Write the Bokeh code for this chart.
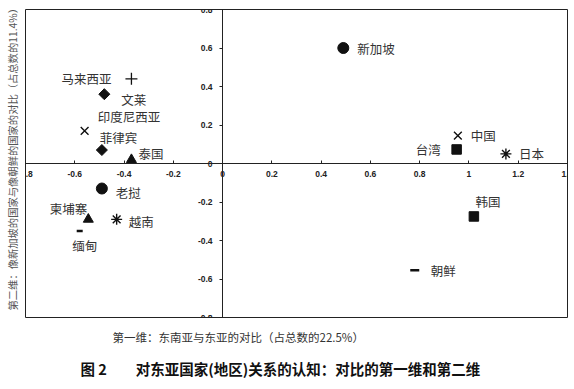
import math
from bokeh.plotting import figure
from bokeh.models import Range1d, FixedTicker, PrintfTickFormatter, Label, Title
from bokeh.embed import file_html
from bokeh.resources import INLINE

# ---------------- data ----------------
names = ["马来西亚", "文莱", "印度尼西亚", "菲律宾", "泰国", "新加坡", "中国", "台湾",
         "日本", "老挝", "柬埔寨", "越南", "缅甸", "韩国", "朝鲜"]
dim1 = [-0.37, -0.48, -0.56, -0.49, -0.37, 0.49, 0.955, 0.95,
        1.15, -0.49, -0.545, -0.43, -0.58, 1.02, 0.78]
dim2 = [0.44, 0.36, 0.17, 0.07, 0.02, 0.60, 0.145, 0.073,
        0.05, -0.13, -0.29, -0.29, -0.35, -0.275, -0.555]
markers = ["cross", "diamond", "x", "diamond", "triangle", "circle", "x", "square",
           "asterisk", "circle", "triangle", "asterisk", "dash", "square", "dash"]

x_ticks = [-0.8, -0.6, -0.4, -0.2, 0, 0.2, 0.4, 0.6, 0.8, 1, 1.2, 1.4]
y_ticks = [-0.8, -0.6, -0.4, -0.2, 0, 0.2, 0.4, 0.6, 0.8]

x_title = "第一维：东南亚与东亚的对比（占总数的22.5%）"
y_title = "第二维：像新加坡的国家与像朝鲜的国家的对比（占总数的11.4%）"
fig_no = "图 2"
caption = "对东亚国家(地区)关系的认知：对比的第一维和第二维"

# ---------------- styles ----------------
marker_style = {
    "cross": dict(marker="cross", size=12, line_width=1.3, fill_color=None),
    "x": dict(marker="x", size=11, line_width=1.4, fill_color=None),
    "asterisk": dict(marker="asterisk", size=11, line_width=1.4, fill_color=None),
    "diamond": dict(marker="square", size=7.8, angle=math.pi / 4, line_width=1, fill_color="#111"),
    "triangle": dict(marker="triangle", size=10, line_width=1, fill_color="#111"),
    "circle": dict(marker="circle", size=11, line_width=1, fill_color="#111"),
    "square": dict(marker="square", size=9.5, line_width=1, fill_color="#111"),
    "dash": dict(marker="dash", size=7, line_width=2.5, fill_color=None),
}
# label placement: (x_offset px, y_offset px (up +), align)
label_pos = {
    "马来西亚": (-20, 0, "right"),
    "文莱": (17, -5, "left"),
    "印度尼西亚": (13, 14, "left"),
    "菲律宾": (-2, 13, "left"),
    "泰国": (7, 6, "left"),
    "新加坡": (14, 0, "left"),
    "中国": (13, 0, "left"),
    "台湾": (-16, 0, "right"),
    "日本": (13, 0, "left"),
    "老挝": (14, -4, "left"),
    "柬埔寨": (-1, 11, "right"),
    "越南": (12, -2, "left"),
    "缅甸": (5, -15, "center"),
    "韩国": (14, 15, "center"),
    "朝鲜": (16, 0, "left"),
}
dash_size = {"缅甸": 6, "朝鲜": 9}

CJK = "Noto Sans CJK SC"

p = figure(width=574, height=389,
           x_range=Range1d(-0.8, 1.4), y_range=Range1d(-0.8, 0.8),
           output_backend="svg", toolbar_location=None,
           min_border_left=25, min_border_right=7, min_border_top=9, min_border_bottom=72)
p.xgrid.visible = False
p.ygrid.visible = False
p.outline_line_color = "#222"
p.outline_line_width = 1
p.background_fill_color = "white"
p.border_fill_color = "white"

for ax, ticks in ((p.xaxis, x_ticks), (p.yaxis, y_ticks)):
    ax.fixed_location = 0
    ax.ticker = FixedTicker(ticks=ticks)
    ax.formatter = PrintfTickFormatter(format="%g")
    ax.minor_tick_line_color = None
    ax.axis_line_color = "#222"
    ax.major_tick_line_color = "#222"
    ax.major_label_text_font = "Liberation Sans"
    ax.major_label_text_font_style = "bold"
    ax.major_label_text_font_size = "8.5px"
    ax.major_label_text_color = "#222222"
p.xaxis.major_tick_in = 3
p.xaxis.major_tick_out = 0
p.xaxis.major_label_standoff = 7
p.yaxis.major_tick_in = 0
p.yaxis.major_tick_out = 3
p.yaxis.major_label_standoff = 7

for i, nm in enumerate(names):
    st = dict(marker_style[markers[i]])
    if markers[i] == "dash":
        st["size"] = dash_size.get(nm, st["size"])
    p.scatter(x=[dim1[i]], y=[dim2[i]], line_color="#111", **st)
    dx, dy, al = label_pos[nm]
    p.add_layout(Label(x=dim1[i], y=dim2[i], x_offset=dx, y_offset=dy, text=nm,
                       text_align=al, text_baseline="middle", text_font=CJK,
                       text_font_size="12.5px", text_color="#333"))

p.add_layout(Title(text=y_title, align="left", offset=7, vertical_align="top",
                   text_font=CJK, text_font_size="10.3px",
                   text_font_style="normal", text_color="#555", standoff=8), "left")
# small spacer between the frame and the x-axis title
p.add_layout(Title(text=" ", text_font_size="1px", standoff=1), "below")
p.add_layout(Title(text=x_title, align="left", offset=87, text_font=CJK,
                   text_font_size="11.5px", text_font_style="normal",
                   text_color="#333", standoff=11), "below")
p.add_layout(Title(text=fig_no + "\u3000\u3000" + caption, align="left", offset=55,
                   text_font=CJK, text_font_size="14.5px", text_font_style="bold",
                   text_color="#111", standoff=11), "below")

open("out.html", "w").write(file_html(p, INLINE))
